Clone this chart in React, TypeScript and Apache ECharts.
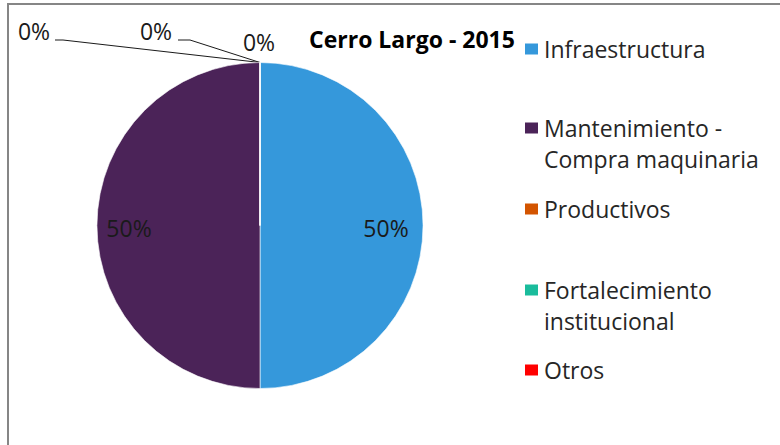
import React, { useEffect, useRef } from "react";
import * as echarts from "echarts";

const categories = [
  "Infraestructura",
  "Mantenimiento -\nCompra maquinaria",
  "Productivos",
  "Fortalecimiento\ninstitucional",
  "Otros",
];
const values = [50, 50, 0, 0, 0];
const colors = ["#3598DB", "#4B2358", "#D35400", "#1ABC9C", "#FF0000"];
const titleText = "Cerro Largo - 2015";

const FONT = "'Open Sans', sans-serif";

export default function App() {
  const ref = useRef<HTMLDivElement>(null);
  useEffect(() => {
    document.body.style.margin = "0";
    const chart = echarts.init(ref.current!, null, { renderer: "svg" });
    const total = values.reduce((a, b) => a + b, 0);
    const cx = 260;
    const cy = 225.5;
    const r = 163;
    // legend icon centres (first line)
    const legendCenters = [49, 128, 209, 290, 370];
    const lh = 31;
    const legends = categories.map((name, i) => {
      const multi = name.includes("\n");
      return {
        data: [name],
        left: 523,
        top: legendCenters[i] - (multi ? lh * 1.5 : lh / 2),
        padding: 0,
        itemWidth: 15,
        itemHeight: 13,
        itemGap: 0,
        icon: "rect",
        selectedMode: false,
        formatter: multi ? (n: string) => "\n" + n : undefined,
        textStyle: {
          fontFamily: FONT,
          fontSize: 23,
          color: "#262626",
          lineHeight: lh,
        },
      };
    });
    chart.setOption({
      animation: false,
      backgroundColor: "#ffffff",
      title: {
        text: titleText,
        left: 309,
        top: 27,
        padding: 0,
        textStyle: {
          fontFamily: FONT,
          fontSize: 23,
          fontWeight: "bold",
          color: "#000",
        },
      },
      legend: legends,
      graphic: [
        {
          type: "rect",
          shape: { x: 8, y: 4, width: 900, height: 700 },
          style: { fill: "none", stroke: "#868686", lineWidth: 2 },
          silent: true,
        },
      ],
      series: [
        {
          type: "pie",
          center: [cx, cy],
          radius: r,
          startAngle: 90,
          clockwise: true,
          data: categories.map((name, i) => ({
            name,
            value: values[i],
            itemStyle: { color: colors[i] },
            labelLine: { show: i === 2 || i === 3 },
          })),
          itemStyle: { borderColor: "#ffffff", borderWidth: 0.6 },
          label: {
            show: true,
            position: "outside",
            overflow: "none",
            fontFamily: FONT,
            fontSize: 23,
            color: "#1a1a1a",
            formatter: (p: any) =>
              Math.round((p.value / total) * 100) + "%",
          },
          labelLine: {
            lineStyle: { color: "#1a1a1a", width: 1 },
          },
          labelLayout: (p: any) => {
            const i = p.dataIndex;
            if (i === 0) return { x: 386, y: 228, width: 80, align: "center", verticalAlign: "middle" };
            if (i === 1) return { x: 129, y: 228, width: 80, align: "center", verticalAlign: "middle" };
            if (i === 2)
              return {
                x: 34,
                y: 31,
                width: 60,
                align: "center",
                verticalAlign: "middle",
                labelLinePoints: [
                  [cx, cy - r],
                  [63, 40],
                  [55, 40],
                ],
              };
            if (i === 3)
              return {
                x: 156,
                y: 31,
                width: 60,
                align: "center",
                verticalAlign: "middle",
                labelLinePoints: [
                  [cx, cy - r],
                  [190, 40],
                  [178, 40],
                ],
              };
            return { x: 259, y: 42, width: 60, align: "center", verticalAlign: "middle" };
          },
        },
      ],
    });
    return () => chart.dispose();
  }, []);
  return <div ref={ref} style={{ width: 780, height: 445 }} />;
}
